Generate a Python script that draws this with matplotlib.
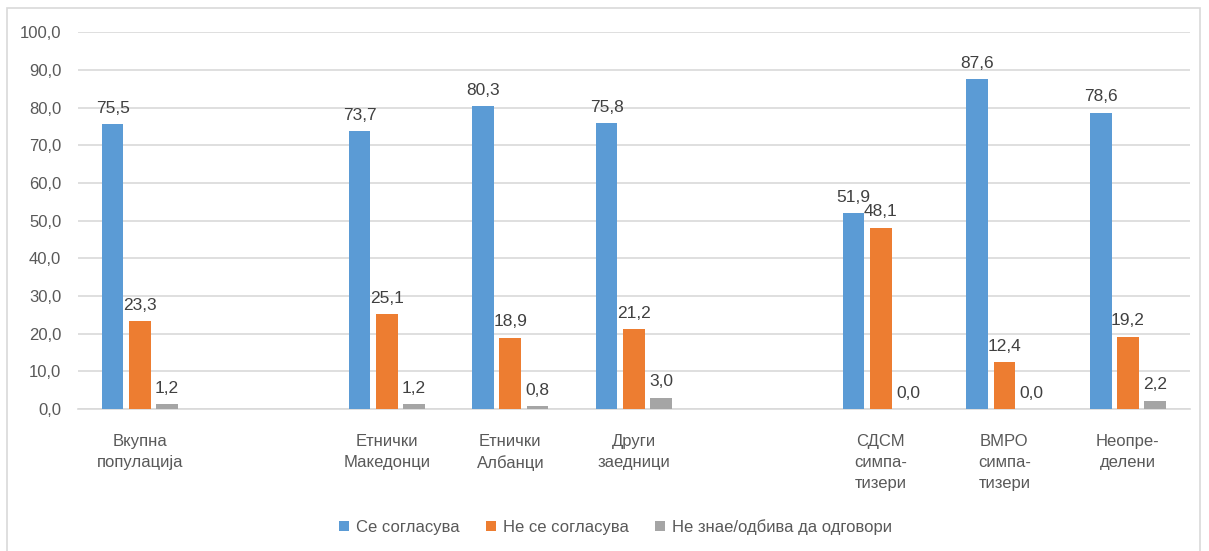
import numpy as np
import matplotlib
matplotlib.use('Agg')
import matplotlib.pyplot as plt
from matplotlib.patches import Rectangle

plt.rcParams['font.family'] = ['Liberation Sans Narrow', 'Liberation Sans', 'DejaVu Sans']

# data (empty strings are spacer slots)
categories = ['Вкупна\nпопулација', '', 'Етнички\nМакедонци', 'Етнички\nАлбанци',
              'Други\nзаедници', '', 'СДСМ\nсимпа-\nтизери', 'ВМРО\nсимпа-\nтизери',
              'Неопре-\nделени']
agree = [75.5, None, 73.7, 80.3, 75.8, None, 51.9, 87.6, 78.6]
disagree = [23.3, None, 25.1, 18.9, 21.2, None, 48.1, 12.4, 19.2]
dont_know = [1.2, None, 1.2, 0.8, 3.0, None, 0.0, 0.0, 2.2]
series_names = ['Се согласува', 'Не се согласува', 'Не знае/одбива да одговори']
colors = ['#5B9BD5', '#ED7D31', '#A5A5A5']
yticks = np.arange(0, 101, 10)

fig = plt.figure(figsize=(12.09, 5.51), dpi=100)
ax = fig.add_axes([0.0645, 0.2577, 0.9195, 0.684])

# light border around the whole chart
fig.patches.append(Rectangle((7 / 1209, -0.01), 1193 / 1209, 1 - 8 / 551 + 0.01,
                             transform=fig.transFigure, fill=False,
                             edgecolor='#D9D9D9', linewidth=1.2))

x = np.arange(len(categories))
width = 0.175
step = 0.22
for k, (vals, name, col) in enumerate(zip([agree, disagree, dont_know], series_names, colors)):
    idx = [i for i, v in enumerate(vals) if v is not None]
    v = [vals[i] for i in idx]
    pos = x[idx] + (k - 1) * step
    ax.bar(pos, v, width, color=col, label=name, zorder=3)
    for p, val in zip(pos, v):
        ax.annotate(f'{val:.1f}'.replace('.', ','), (p, val), xytext=(0, 6),
                    textcoords='offset points', ha='center', va='bottom',
                    fontsize=12.5, color='#404040')

ax.set_xlim(-0.5, len(categories) - 0.5)
ax.set_ylim(0, 100)
ax.set_yticks(yticks)
ax.set_yticklabels([f'{t:.1f}'.replace('.', ',') for t in yticks], fontsize=12, color='#595959')
ax.set_xticks(x)
ax.set_xticklabels(categories, fontsize=12, color='#595959', linespacing=1.5, va='top')
ax.tick_params(axis='both', length=0)
ax.tick_params(axis='x', pad=18)
ax.tick_params(axis='y', pad=12)
ax.grid(axis='y', color='#D9D9D9', linewidth=1.2, zorder=0)
for s in ['top', 'right', 'left']:
    ax.spines[s].set_visible(False)
ax.spines['bottom'].set_color('#D9D9D9')
ax.spines['bottom'].set_linewidth(1.2)

fig.legend(loc='center', bbox_to_anchor=(0.509, 0.044), ncol=3, frameon=False,
           fontsize=12, handlelength=0.6, handleheight=0.6, handletextpad=0.4,
           columnspacing=1.6, labelcolor='#595959')

fig.savefig('out.png', dpi=100)
